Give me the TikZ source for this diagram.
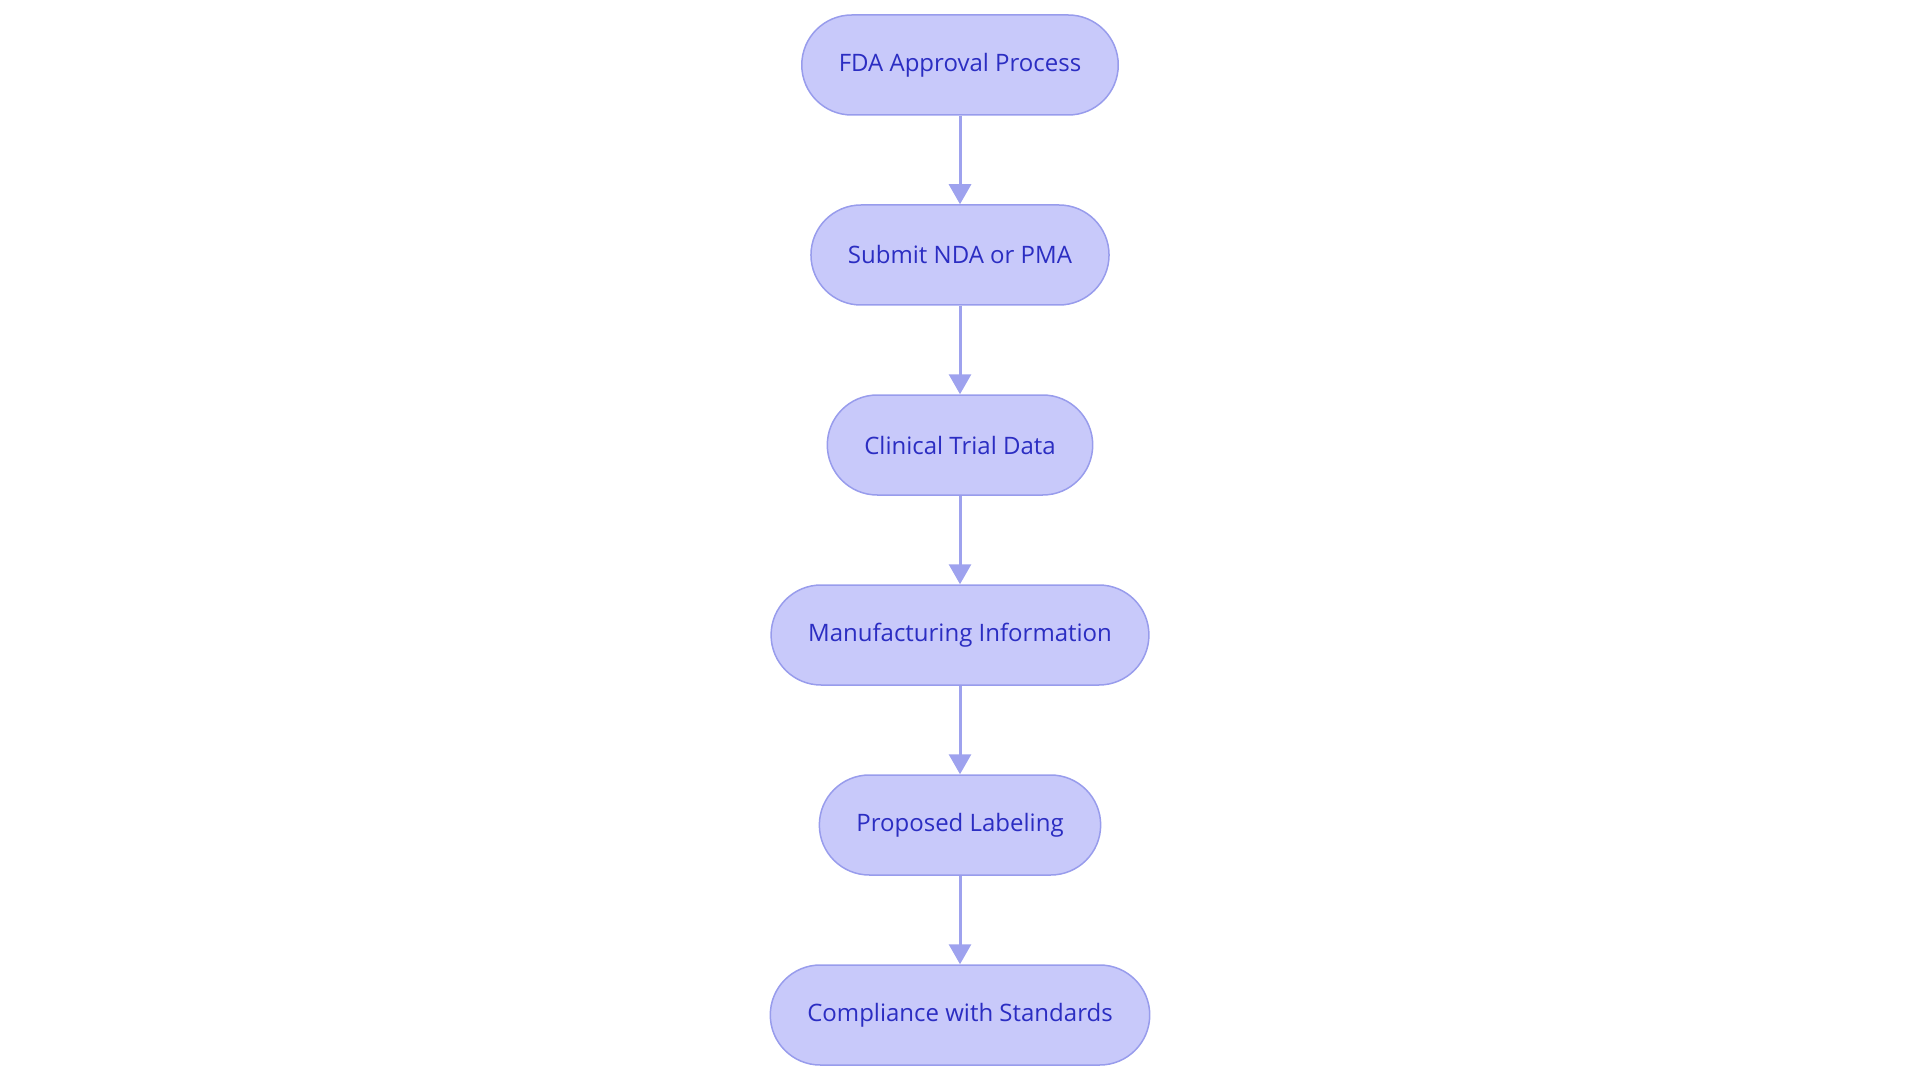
\documentclass[tikz,border=0pt]{standalone}
\usepackage{fontspec}
\setmainfont{Open Sans}
\usetikzlibrary{arrows.meta,positioning}

\definecolor{boxfill}{HTML}{C8C9FA}
\definecolor{boxline}{HTML}{989CEC}
\definecolor{boxtext}{HTML}{2B2DC2}
\definecolor{arrowcol}{HTML}{9EA2EE}

\begin{document}
\begin{tikzpicture}[x=1pt,y=1pt,
			stepbox/.style={draw=boxline, line width=1.5pt, fill=boxfill, text=boxtext,
				rounded corners=50pt, minimum height=100pt, inner xsep=37pt,
				font=\fontsize{24}{29}\selectfont},
			flow/.style={draw=arrowcol, line width=3pt, -{Triangle[length=20pt,width=22pt]}},
			node distance=88.5pt]
			% Frame
			\useasboundingbox (0,0) rectangle (1920,-1083);
			% Steps
			\node[stepbox] (fda) at (960,-65) {FDA Approval Process};
			\node[stepbox, below=of fda] (submit) {Submit NDA or PMA};
			\node[stepbox, below=of submit] (clinical) {Clinical Trial Data};
			\node[stepbox, below=of clinical] (manuf) {Manufacturing Information};
			\node[stepbox, below=of manuf] (label) {Proposed Labeling};
			\node[stepbox, below=of label] (comply) {Compliance with Standards};
			% Arrows
			\draw[flow] (fda) -- (submit);
			\draw[flow] (submit) -- (clinical);
			\draw[flow] (clinical) -- (manuf);
			\draw[flow] (manuf) -- (label);
			\draw[flow] (label) -- (comply);
		\end{tikzpicture}
\end{document}
